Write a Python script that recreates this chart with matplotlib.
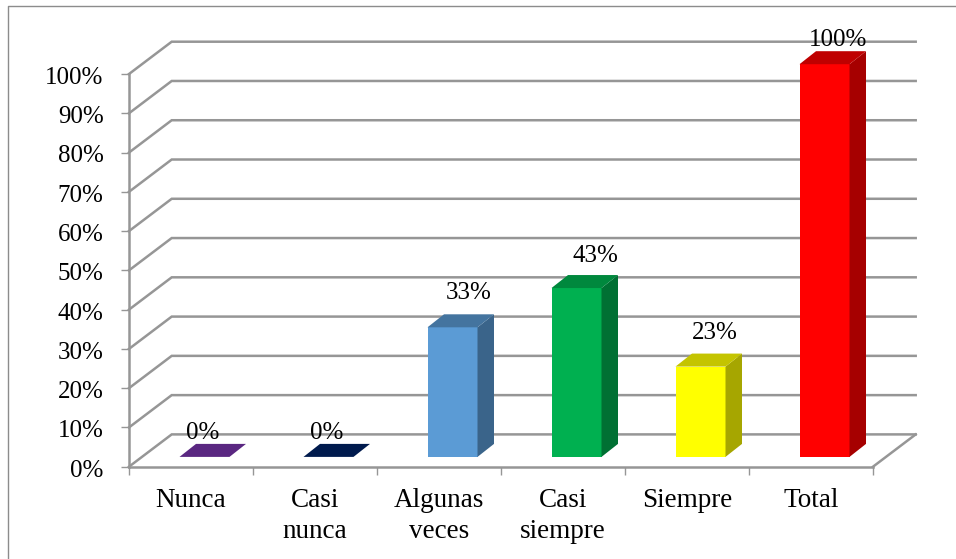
import matplotlib
matplotlib.use("Agg")
import matplotlib.pyplot as plt
from matplotlib.lines import Line2D
from matplotlib.transforms import ScaledTranslation

plt.rcParams['font.family'] = ['Liberation Serif', 'DejaVu Sans']

categories = ["Nunca", "Casi\nnunca", "Algunas\nveces", "Casi\nsiempre", "Siempre", "Total"]
values = [0, 0, 33, 43, 23, 100]
value_labels = ["0%", "0%", "33%", "43%", "23%", "100%"]
y_ticks = [0, 10, 20, 30, 40, 50, 60, 70, 80, 90, 100]

front_colors = ["#7030A0", "#002060", "#5B9BD5", "#00B050", "#FFFF00", "#FF0000"]
top_colors = ["#5A2781", "#001A4D", "#44749F", "#00883D", "#C4C400", "#BF0000"]
side_colors = ["#431D60", "#001339", "#3A648A", "#007033", "#A6A600", "#A60000"]

W, H = 956, 559
GRID = "#969696"

fig = plt.figure(figsize=(W / 100, H / 100), dpi=100)
# axes box is the front plane of the fake 3d chart
ax = fig.add_axes([129 / W, 1 - 466.7 / H, 744 / W, 392.7 / H])
ax.set_xlim(-0.5, 5.5)
ax.set_ylim(0, 100)
px_x = 1 / 124.0
px_y = 100 / 392.7

# depth of the walls and of the bars, in pixels converted to data units
wall_dx, wall_dy = 42.7 * px_x, 32.3 * px_y
bar_dx, bar_dy = 16.5 * px_x, 13 * px_y
base_dx, base_dy = 13.5 * px_x, 9.8 * px_y
bar_w = 50 * px_x

for v in y_ticks:
    ax.plot([-0.5, -0.5 + wall_dx, 5.5 + wall_dx], [v, v + wall_dy, v + wall_dy],
            color=GRID, lw=1.8, clip_on=False, zorder=1, solid_joinstyle="miter")
ax.plot([5.5, 5.5 + wall_dx], [0, wall_dy], color=GRID, lw=1.8, clip_on=False, zorder=1)

for i, v in enumerate(values):
    x0 = i - bar_w / 2 + base_dx
    x1 = x0 + bar_w
    y0 = base_dy
    y1 = v + base_dy
    ax.fill([x0, x1, x1, x0], [y0, y0, y1, y1], color=front_colors[i], lw=0, clip_on=False, zorder=3)
    ax.fill([x1, x1 + bar_dx, x1 + bar_dx, x1], [y0, y0 + bar_dy, y1 + bar_dy, y1],
            color=side_colors[i], lw=0, clip_on=False, zorder=3)
    ax.fill([x0, x1, x1 + bar_dx, x0 + bar_dx], [y1, y1, y1 + bar_dy, y1 + bar_dy],
            color=top_colors[i], lw=0, clip_on=False, zorder=3)

# hand placed labels in the original, pixel shift from the bar's front top centre
shifts = [(-2, 23.5), (-2, 23.5), (16, 34.5), (19, 32.5), (14, 33.5), (14, 24.5)]
for i, v in enumerate(values):
    ax.annotate(value_labels[i], (i + base_dx, v + base_dy),
                xytext=(shifts[i][0] * 0.72, shifts[i][1] * 0.72), textcoords="offset points",
                ha="center", va="center", fontsize=18, color="black", zorder=5, annotation_clip=False)

for s in ["top", "right"]:
    ax.spines[s].set_visible(False)
for s in ["left", "bottom"]:
    ax.spines[s].set_color(GRID)
    ax.spines[s].set_linewidth(1.8)
ax.patch.set_alpha(0)

ax.set_yticks(y_ticks)
ax.set_yticklabels([f"{v}%" for v in y_ticks], fontsize=18)
ax.tick_params(axis="y", length=5.8, width=1, color=GRID, pad=12.5)
# y labels sit a bit lower than matplotlib centres them
nudge = ScaledTranslation(0, -1 / 72, fig.dpi_scale_trans)
for lab in ax.get_yticklabels():
    lab.set_transform(lab.get_transform() + nudge)

ax.set_xticks([i - 0.5 for i in range(7)])
ax.set_xticklabels([])
ax.tick_params(axis="x", which="major", length=5.8, width=1, color=GRID)
ax.set_xticks(range(6), minor=True)
ax.set_xticklabels(categories, minor=True, fontsize=19.5, linespacing=1.3)
ax.tick_params(axis="x", which="minor", length=0, pad=15.5)

# chart frame, only top and left are visible in the crop
fig.add_artist(Line2D([7.5 / W, 7.5 / W, 1], [0, 1 - 5.5 / H, 1 - 5.5 / H], color="#8c8c8c", lw=1))

fig.savefig("out.png", dpi=100)
